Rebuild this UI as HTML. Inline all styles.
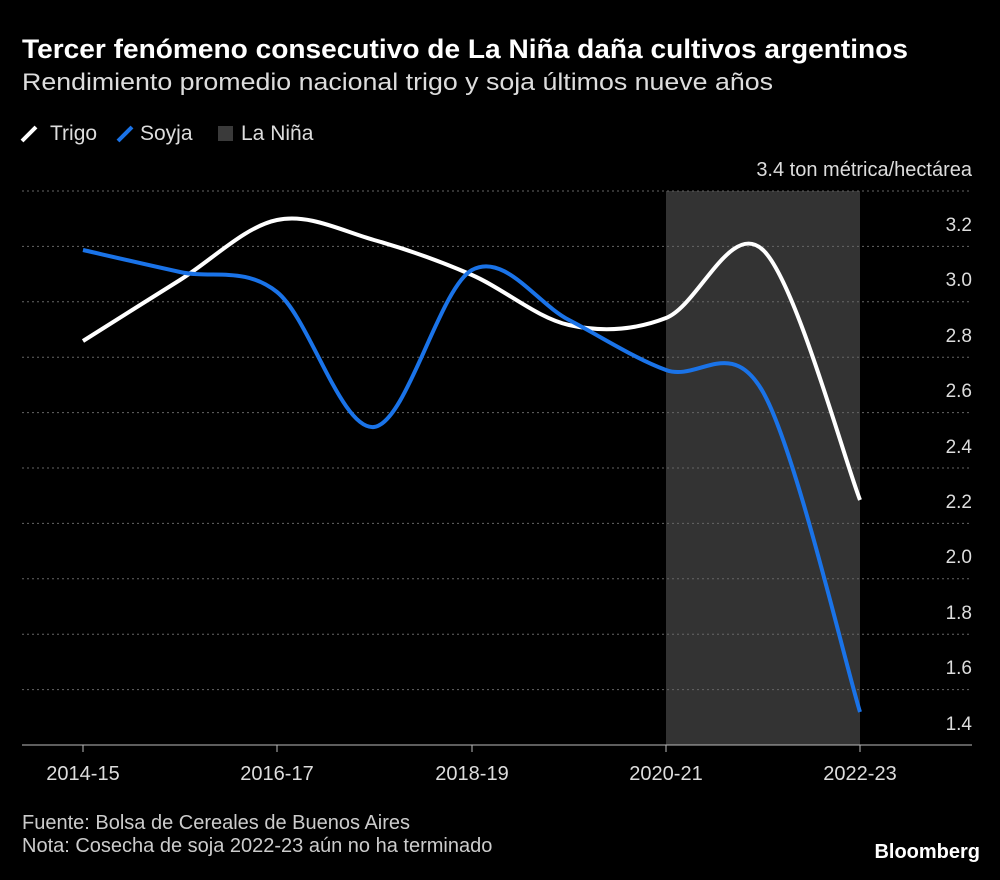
<!DOCTYPE html>
<html><head><meta charset="utf-8"><style>
body{margin:0;background:#000;width:1000px;height:875px;overflow:hidden;font-family:"Liberation Sans",sans-serif;color:#fff}
</style></head><body>
<svg width="1000" height="875" xmlns="http://www.w3.org/2000/svg" font-family="Liberation Sans, sans-serif">
<rect width="1000" height="875" fill="#000"/>
<text x="22" y="58" font-size="27" font-weight="bold" fill="#fff" textLength="886" lengthAdjust="spacingAndGlyphs">Tercer fenómeno consecutivo de La Niña daña cultivos argentinos</text>
<text x="22" y="90" font-size="24" fill="#ddd" textLength="751" lengthAdjust="spacingAndGlyphs">Rendimiento promedio nacional trigo y soja últimos nueve años</text>
<line x1="22" y1="141" x2="36" y2="127" stroke="#fff" stroke-width="4"/>
<text x="50" y="140" font-size="21" fill="#ddd">Trigo</text>
<line x1="118" y1="141" x2="132" y2="127" stroke="#1a73e8" stroke-width="4"/>
<text x="140" y="140" font-size="21" fill="#ddd">Soyja</text>
<rect x="218" y="126" width="15" height="15" fill="#3a3a3a"/>
<text x="241" y="140" font-size="21" fill="#ddd">La Niña</text>
<text x="972" y="176" font-size="20" fill="#ddd" text-anchor="end">3.4 ton métrica/hectárea</text>
<rect x="666" y="191" width="194" height="554" fill="#333"/>
<g stroke="#666" stroke-dasharray="2,3" stroke-width="1">
<line x1="22" x2="972" y1="191" y2="191"/><line x1="22" x2="972" y1="246.4" y2="246.4"/>
<line x1="22" x2="972" y1="301.8" y2="301.8"/><line x1="22" x2="972" y1="357.2" y2="357.2"/>
<line x1="22" x2="972" y1="412.6" y2="412.6"/><line x1="22" x2="972" y1="468" y2="468"/>
<line x1="22" x2="972" y1="523.4" y2="523.4"/><line x1="22" x2="972" y1="578.8" y2="578.8"/>
<line x1="22" x2="972" y1="634.2" y2="634.2"/><line x1="22" x2="972" y1="689.6" y2="689.6"/>
</g>
<line x1="22" x2="972" y1="745" y2="745" stroke="#bbb" stroke-width="1"/>
<g fill="#ddd" font-size="19" text-anchor="end">
<text x="972" y="231">3.2</text><text x="972" y="286">3.0</text><text x="972" y="342">2.8</text>
<text x="972" y="397">2.6</text><text x="972" y="453">2.4</text><text x="972" y="508">2.2</text>
<text x="972" y="563">2.0</text><text x="972" y="619">1.8</text><text x="972" y="674">1.6</text><text x="972" y="730">1.4</text>
</g>
<g stroke="#bbb"><line x1="83" x2="83" y1="745" y2="752"/><line x1="277" x2="277" y1="745" y2="752"/><line x1="472" x2="472" y1="745" y2="752"/><line x1="666" x2="666" y1="745" y2="752"/><line x1="860" x2="860" y1="745" y2="752"/></g>
<g fill="#ddd" font-size="20" text-anchor="middle">
<text x="83" y="780">2014-15</text><text x="277" y="780">2016-17</text><text x="472" y="780">2018-19</text><text x="666" y="780">2020-21</text><text x="860" y="780">2022-23</text>
</g>
<path id="trigo" fill="none" stroke="#fff" stroke-width="4"/>
<path id="soja" fill="none" stroke="#1a73e8" stroke-width="4"/>
<text x="22" y="829" font-size="20" fill="#ccc">Fuente: Bolsa de Cereales de Buenos Aires</text>
<text x="22" y="852" font-size="20" fill="#ccc">Nota: Cosecha de soja 2022-23 aún no ha terminado</text>
<text x="980" y="858" font-size="20" font-weight="bold" fill="#fff" text-anchor="end">Bloomberg</text>
</svg>
<script>
function cr(p){let d="M"+p[0][0]+","+p[0][1];for(let i=0;i<p.length-1;i++){const p0=p[i-1]||p[i],p1=p[i],p2=p[i+1],p3=p[i+2]||p2;d+=" C"+(p1[0]+(p2[0]-p0[0])/6)+","+(p1[1]+(p2[1]-p0[1])/6)+" "+(p2[0]-(p3[0]-p1[0])/6)+","+(p2[1]-(p3[1]-p1[1])/6)+" "+p2[0]+","+p2[1];}return d;}
const xs=[83,180,277,374,472,569,666,763,860];
const t=[341,280,220,240,275,325,318,250,500],s=[250,272,292,427,270,320,370,392,712];
document.getElementById("trigo").setAttribute("d",cr(xs.map((x,i)=>[x,t[i]])));
document.getElementById("soja").setAttribute("d",cr(xs.map((x,i)=>[x,s[i]])));
</script>
</body></html>
